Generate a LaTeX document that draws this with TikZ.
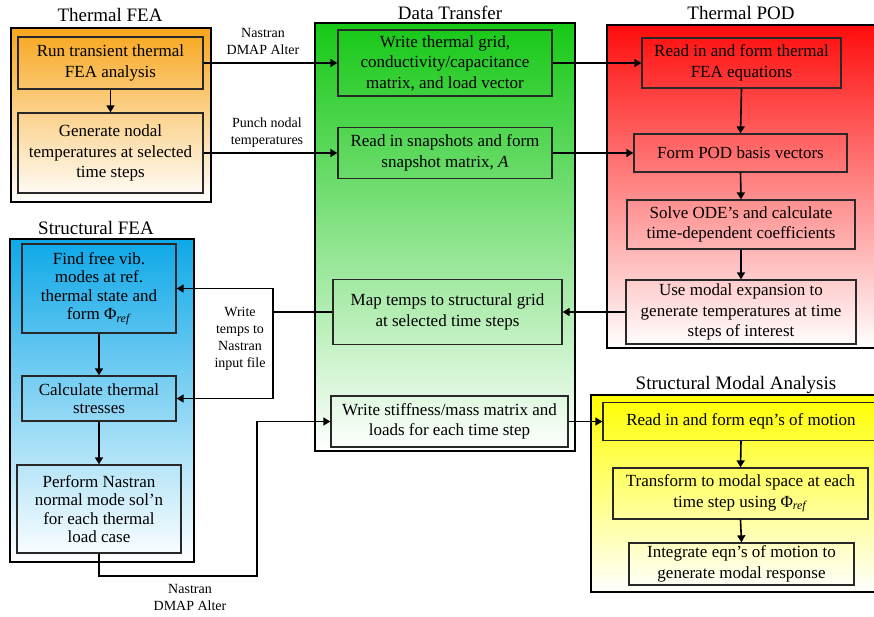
\documentclass[tikz,border=0pt]{standalone}
\usepackage{fontspec}
\setmainfont{Liberation Serif}
\usetikzlibrary{arrows.meta}
\definecolor{boxline}{RGB}{40,40,40}
\definecolor{feaorange}{RGB}{247,166,28}
\definecolor{dtgreen}{RGB}{22,200,22}
\definecolor{podred}{RGB}{255,12,12}
\definecolor{sfblue}{RGB}{14,168,232}
\definecolor{smyellow}{RGB}{255,255,0}
\begin{document}
\begin{tikzpicture}[x=1pt,y=-1pt,
    box/.style={draw=boxline,line width=1.3pt,align=center,inner sep=1pt,
        font=\fontsize{17}{20.5}\selectfont},
    sfbox/.style={box,font=\fontsize{17}{18.5}\selectfont},
    grp/.style={draw=black,line width=1.8pt},
    ttl/.style={font=\fontsize{19}{22}\selectfont},
    lbl/.style={align=center,font=\fontsize{14}{17}\selectfont},
    con/.style={line width=1.6pt},
    arr/.style={con,-{Triangle[length=7pt,width=8pt]}}]
    \clip (0,0) rectangle (874,616);
    \fill[white] (0,0) rectangle (874,616);
    % group frames
    \path[grp,top color=feaorange,bottom color=white] (11,28) rectangle (211,202);
    \path[grp,top color=dtgreen,bottom color=white] (315,23) rectangle (575,451);
    \path[grp,top color=podred,bottom color=white] (607,25) rectangle (880,348);
    \path[grp,top color=sfblue,bottom color=white] (10,239) rectangle (194,562);
    \path[grp,top color=smyellow,bottom color=white] (591,395) rectangle (880,592);
    \node[ttl] (tfea) at (110,15) {Thermal FEA};
    \node[ttl] (dtr) at (450,13) {Data Transfer};
    \node[ttl] (tpod) at (741,13) {Thermal POD};
    \node[ttl] (sfea) at (96,228) {Structural FEA};
    \node[ttl] (smod) at (736,385) {Structural Modal Analysis};
    % thermal FEA
    \node[box,minimum width=185pt,minimum height=52pt] (tf1) at (110.5,63) {Run transient thermal\\FEA analysis};
    \node[box,minimum width=185pt,minimum height=80pt] (tf2) at (110.5,153) {Generate nodal\\temperatures at selected\\time steps};
    % data transfer
    \node[box,minimum width=214pt,minimum height=66pt] (dt1) at (445,63) {Write thermal grid,\\conductivity/capacitance\\matrix, and load vector};
    \node[box,minimum width=214pt,minimum height=51pt] (dt2) at (445,153) {Read in snapshots and form\\snapshot matrix, \textit{A}};
    \node[box,minimum width=229pt,minimum height=65pt] (dt3) at (447.5,312) {Map temps to structural grid\\at selected time steps};
    \node[box,minimum width=237pt,minimum height=51pt] (dt4) at (449.5,421.5) {Write stiffness/mass matrix and\\loads for each time step};
    % thermal POD
    \node[box,minimum width=199pt,minimum height=50pt] (tp1) at (741.5,63) {Read in and form thermal\\FEA equations};
    \node[box,minimum width=213pt,minimum height=38pt] (tp2) at (740.5,153) {Form POD basis vectors};
    \node[box,minimum width=228pt,minimum height=49pt] (tp3) at (741,224.5) {Solve ODE's and calculate\\time-dependent coefficients};
    \node[box,minimum width=230pt,minimum height=64pt] (tp4) at (741,312) {Use modal expansion to\\generate temperatures at time\\steps of interest};
    % structural FEA
    \node[sfbox,minimum width=154pt,minimum height=89pt] (sf1) at (99,288.5) {Find free vib.\\modes at ref.\\thermal state and\\form Φ\textsubscript{\textit{ref}}};
    \node[sfbox,minimum width=154pt,minimum height=45pt] (sf2) at (99,398.5) {Calculate thermal\\stresses};
    \node[sfbox,minimum width=164pt,minimum height=88pt] (sf3) at (99,509) {Perform Nastran\\normal mode sol'n\\for each thermal\\load case};
    % structural modal analysis
    \node[box,minimum width=276pt,minimum height=38pt] (sm1) at (741,421.5) {Read in and form eqn's of motion};
    \node[box,minimum width=255pt,minimum height=51pt] (sm2) at (740.5,493.5) {Transform to modal space at each\\time step using Φ\textsubscript{\textit{ref}}};
    \node[box,minimum width=225pt,minimum height=42pt] (sm3) at (741.5,564) {Integrate eqn's of motion to\\generate modal response};
    % connector labels
    \node[lbl] (l1) at (263,41) {Nastran\\DMAP Alter};
    \node[lbl] (l2) at (267,133) {Punch nodal\\temperatures};
    \node[lbl] (l3) at (240,339) {Write\\temps to\\Nastran\\input file};
    \node[lbl] (l4) at (190,597) {Nastran\\DMAP Alter};
    \coordinate (wt) at (273,312);
    \coordinate (dm) at (257,576);
    % connectors
    \draw[arr] (tf1.south) -- (tf2.north);
    \draw[arr] (tf1.east) -- (dt1.west);
    \draw[arr] (tf2.east) -- (dt2.west);
    \draw[arr] (dt1.east) -- (tp1.west);
    \draw[arr] (dt2.east) -- (tp2.west);
    \draw[arr] (tp1.south) -- (tp2.north);
    \draw[arr] (tp2.south) -- (tp3.north);
    \draw[arr] (tp3.south) -- (tp4.north);
    \draw[arr] (tp4.west) -- (dt3.east);
    \draw[con] (dt3.west) -- (wt);
    \draw[arr] (wt) |- (sf1.east);
    \draw[arr] (wt) |- (sf2.east);
    \draw[arr] (sf1.south) -- (sf2.north);
    \draw[arr] (sf2.south) -- (sf3.north);
    \draw[arr] (sf3.south) |- (dm) |- (dt4.west);
    \draw[arr] (dt4.east) -- (sm1.west);
    \draw[arr] (sm1.south) -- (sm2.north);
    \draw[arr] (sm2.south) -- (sm3.north);
\end{tikzpicture}
\end{document}
